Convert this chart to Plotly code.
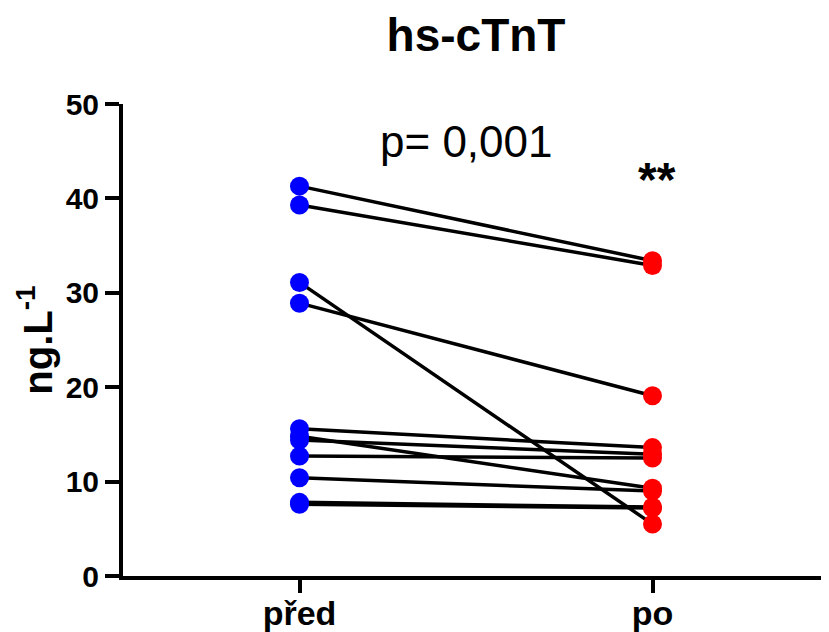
import plotly.graph_objects as go

groups = ["před", "po"]
pred = [41.3, 39.3, 31.1, 28.9, 15.6, 14.8, 14.4, 12.7, 10.4, 7.8, 7.6]
po = [33.4, 32.9, 5.5, 19.1, 13.6, 9.3, 12.9, 12.5, 9.0, 7.3, 7.2]
y_ticks = [0, 10, 20, 30, 40, 50]

FONT = "Liberation Sans, Arial, sans-serif"
W, H = 821, 624  # page body has an 8px margin
fig = go.Figure()

for a, b in zip(pred, po):
    fig.add_trace(go.Scatter(x=[0, 1], y=[a, b], mode="lines",
                             line=dict(color="black", width=3.5),
                             showlegend=False, hoverinfo="skip"))

fig.add_trace(go.Scatter(x=[0] * len(pred), y=pred, mode="markers",
                         marker=dict(color="#0000ff", size=19, line=dict(width=0)),
                         showlegend=False))
fig.add_trace(go.Scatter(x=[1] * len(po), y=po, mode="markers",
                         marker=dict(color="#ff0000", size=19, line=dict(width=0)),
                         showlegend=False))

fig.add_annotation(x=0.472, y=46.0, xref="x", yref="y", text="p= 0,001",
                   showarrow=False, font=dict(family=FONT, size=44, color="black"))
fig.add_annotation(x=1.013, y=42.0, xref="x", yref="y", text="<b>**</b>",
                   showarrow=False, font=dict(family=FONT, size=48, color="black"))

fig.update_layout(
    width=W, height=H,
    margin=dict(l=115, r=0, t=96, b=56, autoexpand=False),
    paper_bgcolor="white", plot_bgcolor="white",
    title=dict(text="<b>hs-cTnT</b>", x=(476 - 8) / W, xanchor="center",
               y=1 - 26.5 / H, yanchor="middle", yref="container",
               font=dict(family=FONT, size=46, color="black")),
    xaxis=dict(range=[-0.5, 1.5], tickvals=[0, 1], ticktext=[f"<b>{g}</b>" for g in groups],
               automargin=False, ticklabelstandoff=-9,
               showline=True, linecolor="black", linewidth=4, showgrid=False, zeroline=False,
               ticks="outside", ticklen=13, tickwidth=4, tickcolor="black",
               tickfont=dict(family=FONT, size=34, color="black")),
    yaxis=dict(range=[0, 50], tickvals=y_ticks, ticktext=[f"<b>{v}</b>" for v in y_ticks],
               automargin=False,
               showline=True, linecolor="black", linewidth=4, showgrid=False, zeroline=False,
               ticks="outside", ticklen=14, tickwidth=4, tickcolor="black",
               tickfont=dict(family=FONT, size=30, color="black"),
               title=dict(text="<b>ng.L<sup>-1</sup></b>", standoff=2,
                          font=dict(family=FONT, size=40, color="black"))),
)

fig.write_html("out.html")
